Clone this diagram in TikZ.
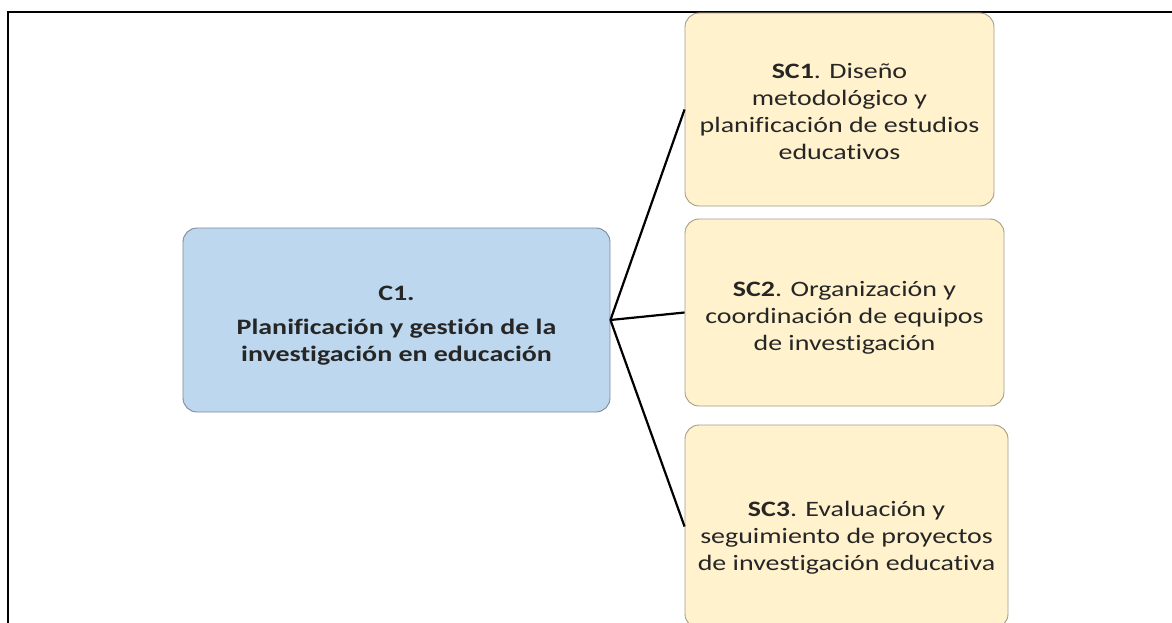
\documentclass[tikz,border=0pt]{standalone}
\usepackage{fontspec}
\setmainfont{Carlito}[FakeStretch=1.27, Ligatures=NoCommon]
\definecolor{boxblue}{HTML}{BDD7EE}
\definecolor{lineblue}{HTML}{7D8A99}
\definecolor{boxyellow}{HTML}{FFF2CC}
\definecolor{lineyellow}{HTML}{A39C86}
\begin{document}
\begin{tikzpicture}[x=1pt, y=-1pt,
    every node/.style={font=\fontsize{22}{27}\selectfont, text=black!85, align=center, inner sep=0pt},
    compbox/.style={draw=lineblue, fill=boxblue, rounded corners=14pt, line width=0.9pt},
    subbox/.style={draw=lineyellow, fill=boxyellow, rounded corners=14pt, line width=0.9pt},
    branch/.style={line width=2.2pt}]
    \useasboundingbox (0,0) rectangle (1172,623);
    \draw[line width=1.6pt] (8,623) -- (8,12) -- (1172,12);
    \node[compbox, minimum width=427pt, minimum height=184pt,
        label={[yshift=-6pt, font=\fontsize{22}{27}\selectfont\bfseries]center:C1.\\[7pt]Planificación y gestión de la\\investigación en educación}]
        (c1) at (396.5,320) {};
    \node[subbox, minimum width=309pt, minimum height=193pt,
        label={[yshift=-2pt]center:\textbf{SC1}. Diseño\\metodológico y\\planificación de estudios\\educativos}]
        (sc1) at (839.5,109.5) {};
    \node[subbox, minimum width=319pt, minimum height=187pt,
        label={[yshift=-5pt]center:\textbf{SC2}. Organización y\\coordinación de equipos\\de investigación}]
        (sc2) at (844.5,312.5) {};
    \node[subbox, minimum width=323pt, minimum height=203pt,
        label={[yshift=-11pt]center:\textbf{SC3}. Evaluación y\\seguimiento de proyectos\\de investigación educativa}]
        (sc3) at (846.5,526.5) {};
    \draw[branch] (c1.east) -- (sc1.west);
    \draw[branch] (c1.east) -- (sc2.west);
    \draw[branch] (c1.east) -- (sc3.west);
\end{tikzpicture}
\end{document}
